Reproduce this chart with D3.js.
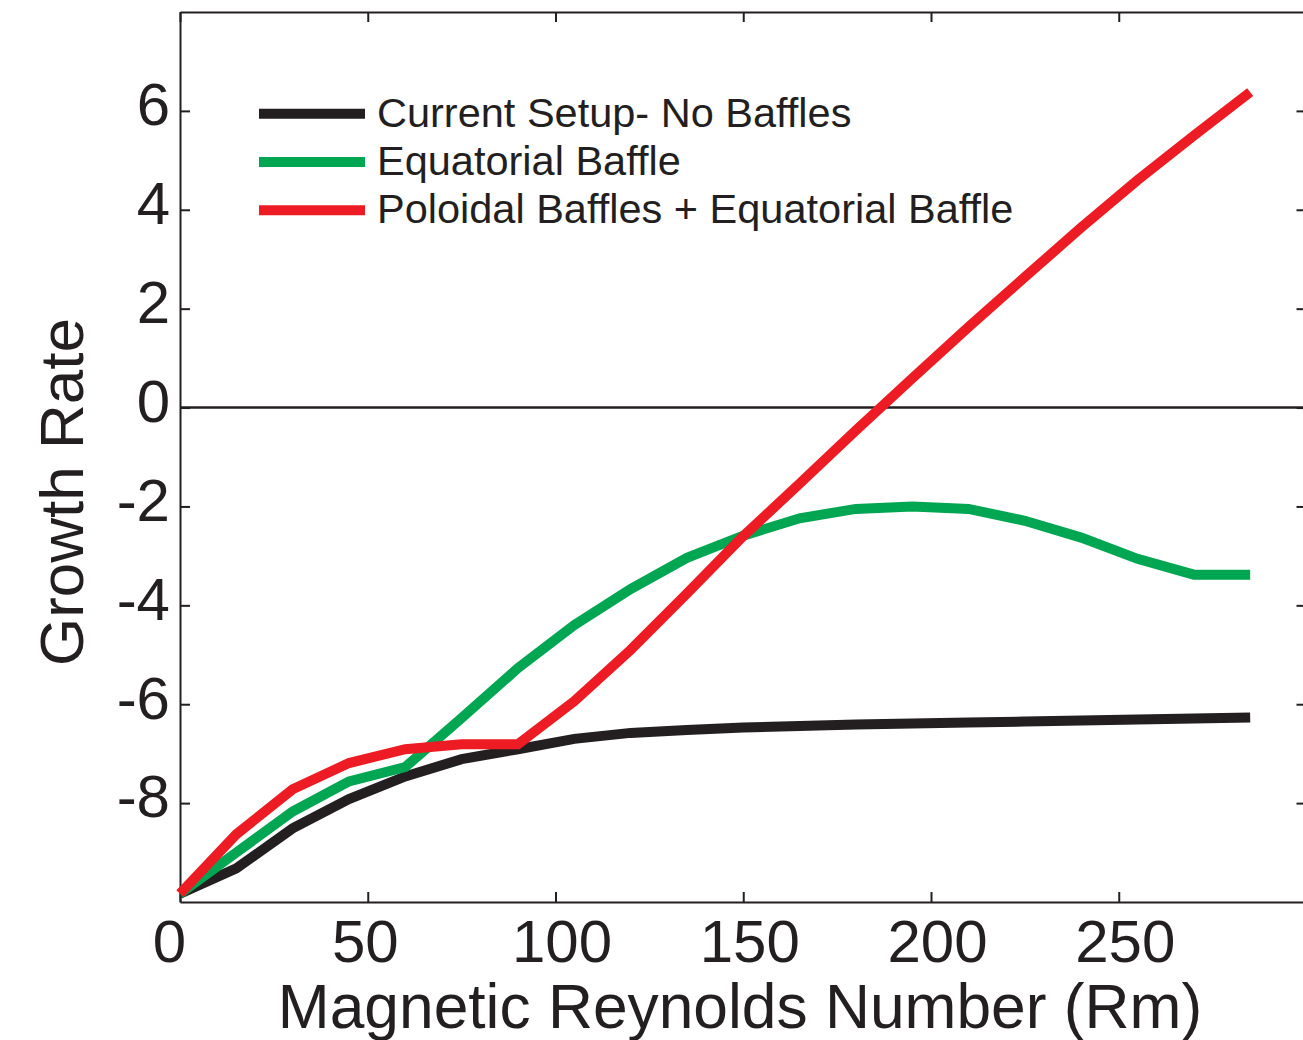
<!DOCTYPE html>
<html>
<head>
<meta charset="utf-8">
<script src="https://cdn.jsdelivr.net/npm/d3@7"></script>
<style>
  html, body { margin: 0; padding: 0; background: #fff; }
  svg { display: block; }
  text { font-family: "Liberation Sans", Arial, Helvetica, sans-serif; fill: #231f20; }
</style>
</head>
<body>
<svg id="chart" width="1303" height="1040"></svg>
<script>
// Magnetic Reynolds number sample points
const rm = [0, 15, 30, 45, 60, 75, 90, 105, 120, 135, 150, 165, 180, 195, 210, 225, 240, 255, 270, 285];

// Growth rate for each configuration
const noBaffles = [-9.83, -9.32, -8.51, -7.92, -7.46, -7.11, -6.91, -6.70, -6.58, -6.52,
                   -6.47, -6.44, -6.41, -6.39, -6.37, -6.35, -6.33, -6.31, -6.29, -6.27];
const equatorial = [-9.83, -9.00, -8.17, -7.56, -7.27, -6.28, -5.27, -4.40, -3.67, -3.04,
                    -2.59, -2.24, -2.05, -2.00, -2.05, -2.29, -2.63, -3.06, -3.38, -3.38];
const poloidal = [-9.83, -8.63, -7.72, -7.19, -6.91, -6.81, -6.81, -5.94, -4.90, -3.76,
                  -2.60, -1.54, -0.46, 0.59, 1.63, 2.64, 3.64, 4.60, 5.50, 6.38];

const seriesNames = ["Current Setup- No Baffles", "Equatorial Baffle", "Poloidal Baffles + Equatorial Baffle"];
const seriesColors = ["#231f20", "#00a651", "#ed1c24"];

const xTicks = [0, 50, 100, 150, 200, 250];
const yTicks = [-8, -6, -4, -2, 0, 2, 4, 6];

const svg = d3.select("#chart");
const ink = "#231f20";

const x = d3.scaleLinear().domain([0, 300]).range([180, 1306.5]);
const y = d3.scaleLinear().domain([-10, 8]).range([902, 12]);

function styleAxis(g) {
  g.select(".domain").attr("stroke", ink).attr("stroke-width", 2);
  g.selectAll(".tick line").attr("stroke", ink).attr("stroke-width", 2);
}

// bottom axis with labels (small horizontal nudges for the label set)
const gx = svg.append("g")
  .attr("transform", `translate(0,${y(-10)})`)
  .call(d3.axisBottom(x).tickValues(xTicks).tickSizeInner(-10).tickSizeOuter(0)
        .tickPadding(17.5).tickFormat(d => String(d)));
gx.selectAll("text").attr("font-size", 60).attr("fill", ink)
  .attr("dx", d => d === 0 ? -11 : d === 50 ? -3 : 6)
  .style("font-family", '"Liberation Sans", Arial, sans-serif');
styleAxis(gx);

// top axis (ticks only)
const gxt = svg.append("g")
  .attr("transform", `translate(0,${y(8)})`)
  .call(d3.axisTop(x).tickValues(xTicks).tickSizeInner(-10).tickSizeOuter(0).tickFormat(""));
styleAxis(gxt);

// left axis with labels
const gy = svg.append("g")
  .attr("transform", `translate(${x(0)},0)`)
  .call(d3.axisLeft(y).tickValues(yTicks).tickSizeInner(-10).tickSizeOuter(0)
        .tickPadding(10).tickFormat(d => String(d)));
gy.selectAll("text").attr("font-size", 60).attr("dy", "0.23em").attr("fill", ink)
  .style("font-family", '"Liberation Sans", Arial, sans-serif');
styleAxis(gy);

// right axis (ticks only)
const gyr = svg.append("g")
  .attr("transform", `translate(${x(300)},0)`)
  .call(d3.axisRight(y).tickValues(yTicks).tickSizeInner(-10).tickSizeOuter(0).tickFormat(""));
styleAxis(gyr);

// zero reference line
svg.append("line")
  .attr("x1", x(0)).attr("x2", x(300))
  .attr("y1", y(0)).attr("y2", y(0))
  .attr("stroke", ink).attr("stroke-width", 2.5);

// data curves
const allSeries = [noBaffles, equatorial, poloidal];
const line = d3.line().x((d, i) => x(rm[i])).y(d => y(d));
allSeries.forEach((vals, k) => {
  svg.append("path")
    .datum(vals)
    .attr("d", line)
    .attr("fill", "none")
    .attr("stroke", seriesColors[k])
    .attr("stroke-width", 10)
    .attr("stroke-linecap", "butt")
    .attr("stroke-linejoin", "miter");
});

// legend
const legendY = [113.7, 161.9, 210.3];
seriesNames.forEach((name, k) => {
  svg.append("line")
    .attr("x1", 259).attr("x2", 365)
    .attr("y1", legendY[k]).attr("y2", legendY[k])
    .attr("stroke", seriesColors[k]).attr("stroke-width", 10);
  svg.append("text")
    .attr("x", 377).attr("y", legendY[k] + 13)
    .attr("font-size", 41.5)
    .text(name);
});

// axis titles
svg.append("text")
  .attr("x", 740).attr("y", 1028)
  .attr("text-anchor", "middle")
  .attr("font-size", 62.3)
  .text("Magnetic Reynolds Number (Rm)");

svg.append("text")
  .attr("transform", "translate(83,492) rotate(-90)")
  .attr("text-anchor", "middle")
  .attr("font-size", 62)
  .text("Growth Rate");
</script>
</body>
</html>
